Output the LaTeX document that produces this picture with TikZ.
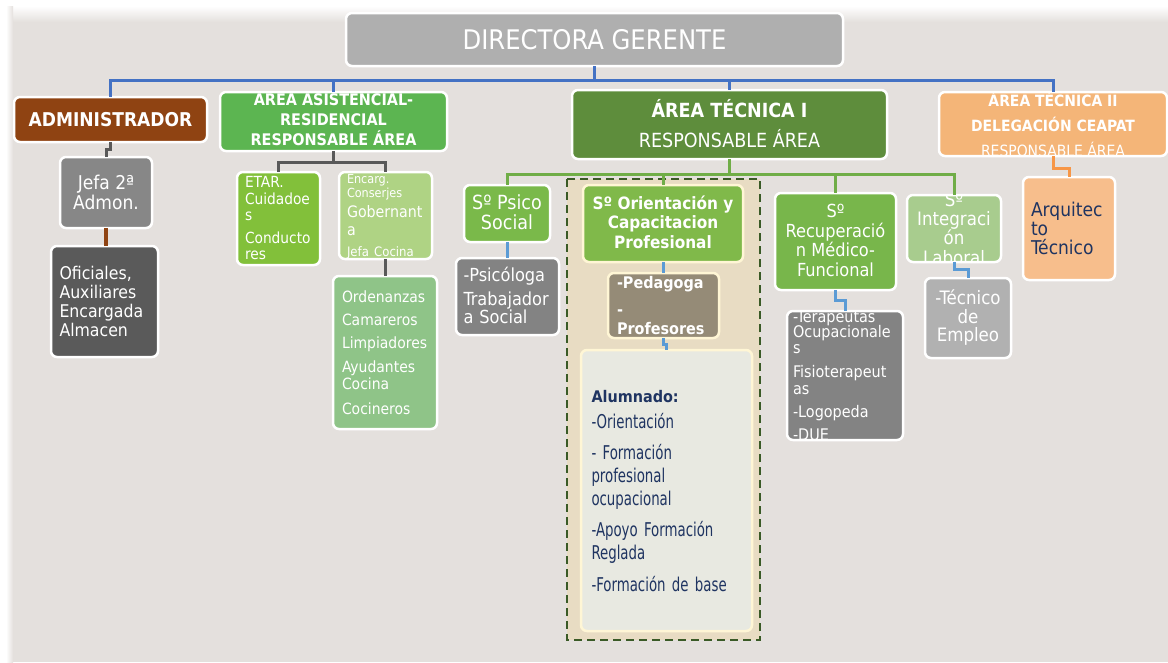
\documentclass[tikz,border=0pt]{standalone}
\usepackage{fontspec}
\setmainfont{DejaVu Sans Condensed}
\newfontfamily\agency[FakeStretch=0.78]{DejaVu Sans Condensed}
\newcommand\fsz[2]{\fontsize{#1}{#2}\selectfont}
\definecolor{bgc}{HTML}{E4E0DD}
\definecolor{dirc}{HTML}{AFAFAF}
\definecolor{admc}{HTML}{8F4312}
\definecolor{asisc}{HTML}{5CB551}
\definecolor{tecic}{HTML}{5E8D3C}
\definecolor{teciic}{HTML}{F4B578}
\definecolor{jefac}{HTML}{878787}
\definecolor{ofic}{HTML}{5A5A5A}
\definecolor{etarc}{HTML}{82C03A}
\definecolor{encc}{HTML}{AFD384}
\definecolor{ordc}{HTML}{8FC488}
\definecolor{psicoc}{HTML}{7AB94A}
\definecolor{grayc}{HTML}{838383}
\definecolor{dashfill}{HTML}{E8DCC3}
\definecolor{dashc}{HTML}{3A5A26}
\definecolor{orc}{HTML}{80B94A}
\definecolor{pedac}{HTML}{958B77}
\definecolor{alumc}{HTML}{E8E9E1}
\definecolor{creamc}{HTML}{FFF6D5}
\definecolor{recupc}{HTML}{78B64B}
\definecolor{integc}{HTML}{A8CC8E}
\definecolor{empc}{HTML}{B1B1B1}
\definecolor{arqc}{HTML}{F7BE8C}
\definecolor{navyc}{HTML}{1F3461}
\definecolor{bluec}{HTML}{4472C4}
\definecolor{lbluec}{HTML}{5B9BD5}
\definecolor{dgrayc}{HTML}{595959}
\definecolor{greenc}{HTML}{70AD47}
\definecolor{orangec}{HTML}{F79646}
% name, x1, y1, x2, y2, fill, border, text style, text
\newcommand\obox[9]{%
  \node[fill=#6, draw=none, inner sep=0pt, minimum width={#4-#2}, minimum height={#5-#3}, rounded corners=6pt] (#1) at ({(#2+#4)/2},{-(#3+#5)/2}) {};
  \begin{scope}
    \clip[rounded corners=6pt] (#2,-#3) rectangle (#4,-#5);
    \node[inner sep=0pt, text=white, #8] (#1t) at (#1.center) {#9};
  \end{scope}
  \draw[draw=#7, line width=2.5pt, rounded corners=6pt] (#2,-#3) rectangle (#4,-#5);
}
\tikzset{
  ctr/.style={align=center},
  lft/.style={align=left, text width=#1},
  conn/.style={line width=3pt},
  blueline/.style={conn, draw=bluec},
  lblueline/.style={conn, draw=lbluec},
  grayline/.style={conn, draw=dgrayc},
  greenline/.style={conn, draw=greenc},
  orangeline/.style={conn, draw=orangec},
  brownline/.style={line width=4pt, draw=admc},
}
\begin{document}
\begin{tikzpicture}[x=1pt,y=1pt]
\useasboundingbox (0,0) rectangle (1168,-662);
\fill[white] (0,0) rectangle (1168,-662);
\fill[bgc] (6,-6) rectangle (1168,-662);
\shade[top color=white, bottom color=bgc] (6,-6) rectangle (1168,-22);
\shade[left color=white, right color=bgc] (6,-6) rectangle (13,-662);

% dashed group
\draw[fill=dashfill, draw=dashc, line width=2.5pt, dash pattern=on 8pt off 5pt] (567,-179) rectangle (760,-640);

\obox{dir}{346}{13}{843}{66}{dirc}{white}{ctr, font=\fsz{27}{30}}{DIRECTORA GERENTE}
\obox{adm}{14}{97}{207}{142}{admc}{white}{ctr, font=\bfseries\fsz{19}{22}}{ADMINISTRADOR}
\obox{asis}{220}{92}{447}{151}{asisc}{white}{ctr, font=\bfseries\fsz{16}{20}, yshift=3}{ÁREA ASISTENCIAL-\\RESIDENCIAL\\RESPONSABLE ÁREA}
\obox{teci}{572}{90}{887}{159}{tecic}{white}{ctr, font=\fsz{19.5}{30}, yshift=1}{\textbf{ÁREA TÉCNICA I}\\RESPONSABLE ÁREA}
\obox{tecii}{939}{92}{1167}{156}{teciic}{white}{ctr, font=\fsz{15.5}{25}}{\textbf{ÁREA TÉCNICA II}\\\textbf{DELEGACIÓN CEAPAT}\\RESPONSABLE ÁREA}

\obox{jefa}{60}{157}{152}{228}{jefac}{white}{ctr, font=\fsz{19}{20}}{Jefa 2ª\\Admon.}
\obox{ofi}{51}{246}{158}{357}{ofic}{white}{lft=90, font=\fsz{17.5}{19.3}}{Oficiales,\\Auxiliares\\Encargada\\Almacen}

\obox{etar}{237}{172}{320}{265}{etarc}{white}{lft=67, font=\fsz{15.3}{16.5}}{ETAR.\\Cuidadoe\\s\\[6pt]Conducto\\res}
\obox{enc}{339}{172}{432}{259}{encc}{white}{lft=77, font=\fsz{15.8}{16}, yshift=-1}{{\fsz{12.5}{14}Encarg.}\\[-2pt]{\fsz{12.5}{14}Conserjes}\\[4pt]Gobernant\\[2pt]a\\[5pt]{\fsz{13}{14}Jefa Cocina}}
\obox{ord}{333}{276}{437}{429}{ordc}{white}{lft=86, font=\fsz{15.5}{16.5}}{Ordenanzas\\[6.5pt]Camareros\\[6.5pt]Limpiadores\\[7.5pt]Ayudantes\\Cocina\\[8.5pt]Cocineros}

\obox{psico}{464}{185}{550}{242}{psicoc}{white}{ctr, font=\fsz{19.5}{20}, yshift=1.5}{Sº Psico\\Social}
\obox{psicol}{456}{258}{559}{335}{grayc}{white}{lft=88, font=\fsz{18}{18}, yshift=1}{-Psicóloga\\[6pt]Trabajador\\a Social}

\obox{orient}{583}{185}{743}{262}{orc}{creamc}{ctr, font=\bfseries\fsz{17}{19.5}, yshift=1.5}{Sº Orientación y\\Capacitacion\\Profesional}
\obox{peda}{608}{273}{719}{338}{pedac}{creamc}{lft=93, font=\bfseries\fsz{16}{19}}{-Pedagoga\\[8pt]-\\Profesores}
\obox{alum}{581}{350}{752}{631}{alumc}{creamc}{lft=150, text=navyc, font=\agency\fsz{19}{23}, yshift=-1}{{\rmfamily\bfseries\fsz{16}{23}Alumnado:}\\[3pt]-Orientación\\[8pt]- Formación\\profesional\\ocupacional\\[8pt]-Apoyo Formación\\Reglada\\[9pt]-Formación de base}

\obox{recup}{775}{193}{896}{290}{recupc}{white}{ctr, font=\fsz{18}{19.5}, yshift=1}{Sº\\Recuperació\\n Médico-\\Funcional}
\obox{terap}{787}{311}{903}{440}{grayc}{white}{lft=104, font=\fsz{16}{16.5}, yshift=0}{-Terapeutas\\[-1.5pt]Ocupacionale\\s\\[7.5pt]Fisioterapeut\\as\\[6.5pt]-Logopeda\\[6.5pt]-DUE}
\obox{integ}{907}{195}{1001}{262}{integc}{white}{ctr, font=\fsz{18.5}{19.3}}{Sº\\Integraci\\ón\\Laboral}
\obox{emp}{925}{278}{1011}{358}{empc}{white}{ctr, font=\fsz{18.5}{18.5}}{-Técnico\\de\\Empleo}
\obox{arq}{1023}{177}{1115}{280}{arqc}{white}{lft=76, text=navyc, font=\fsz{19}{19}, yshift=0}{Arquitec\\to\\Técnico}

% connectors
\draw[blueline] (dir.south) -- ++(0,-14) coordinate (bj);
\draw[blueline] (adm.north) |- (bj);
\draw[blueline] (asis.north) |- (bj);
\draw[blueline] (teci.north) |- (bj);
\draw[blueline] (tecii.north) |- (bj);

\draw[grayline] (adm.south) -- ++(0,-7) -| (jefa.north);
\draw[brownline] (jefa.south) -- (jefa.south |- ofi.north);

\draw[grayline] (asis.south) -- ++(0,-11) coordinate (aj);
\draw[grayline] (etar.north) |- (aj);
\draw[grayline] (enc.north) |- (aj);
\draw[grayline] (enc.south) -- (enc.south |- ord.north);

\draw[greenline] (teci.south) -- ++(0,-15) coordinate (tj);
\draw[greenline] (psico.north) |- (tj);
\draw[greenline] (orient.north) |- (tj);
\draw[greenline] (recup.north) |- (tj);
\draw[greenline] (integ.north) |- (tj);

\draw[lblueline] (psico.south) -- (psico.south |- psicol.north);
\draw[lblueline] (orient.south) -- (orient.south |- peda.north);
\draw[lblueline] (peda.south) -- ++(0,-6) -| (alum.north);
\draw[lblueline] (recup.south) -- ++(0,-10) -| (terap.north);
\draw[lblueline] (integ.south) -- ++(0,-7) -| (emp.north);
\draw[orangeline] (tecii.south) -- ++(0,-12) -| (arq.north);
\end{tikzpicture}
\end{document}
